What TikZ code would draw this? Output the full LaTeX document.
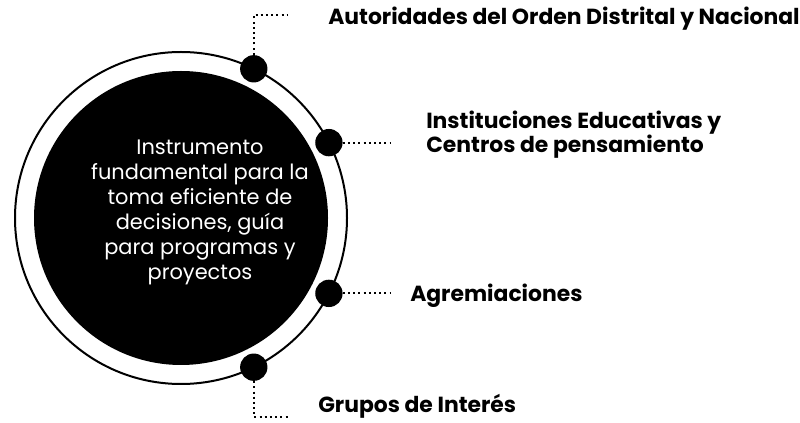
\documentclass[tikz,border=0pt]{standalone}
\usepackage{fontspec}
\setmainfont{Poppins}
\tikzset{
	punto/.style={circle,fill=black,inner sep=0pt,minimum size=20.5pt},
	enlace/.style={line width=1.5pt,dash pattern=on 1.5pt off 2.4pt},
	etiqueta/.style={anchor=base west,inner sep=0pt,align=left,font=\bfseries\fontsize{16.4}{17.25}\selectfont},
}
\begin{document}
\begin{tikzpicture}[x=0.75pt,y=-0.75pt]
	\useasboundingbox (0,0) rectangle (800,423);
	\coordinate (c) at (181,218);
	\draw[line width=1.5pt] (c) circle (166);
	\fill (c) circle (147);
	\node[text=white,align=center,inner sep=0pt,font=\fontsize{15.7}{18.75}\selectfont] (centro) at (200,212) {Instrumento\\fundamental para la\\toma eficiente de\\decisiones, guía\\para programas y\\proyectos};
	% puntos sobre el anillo
	\foreach \a/\n in {-64/1,-27/2,27/3,64/4}
		\node[punto] (d\n) at ([shift={(\a:166)}]c) {};
	\coordinate (f1) at (288,15);
	\coordinate (f2) at (390,141);
	\coordinate (f3) at (390,293);
	\coordinate (f4) at (290,417);
	\draw[enlace] (d1) |- (f1);
	\draw[enlace] (d2) -- (d2 -| f2);
	\draw[enlace] (d3) -- (d3 -| f3);
	\draw[enlace] (d4) |- (f4);
	\node[etiqueta] (l1) at (328,25) {Autoridades del Orden Distrital y Nacional};
	\node[etiqueta] (l2) at (426,153) {Instituciones Educativas y\\Centros de pensamiento};
	\node[etiqueta] (l3) at (410,302) {Agremiaciones};
	\node[etiqueta] (l4) at (318,413) {Grupos de Interés};
\end{tikzpicture}
\end{document}
